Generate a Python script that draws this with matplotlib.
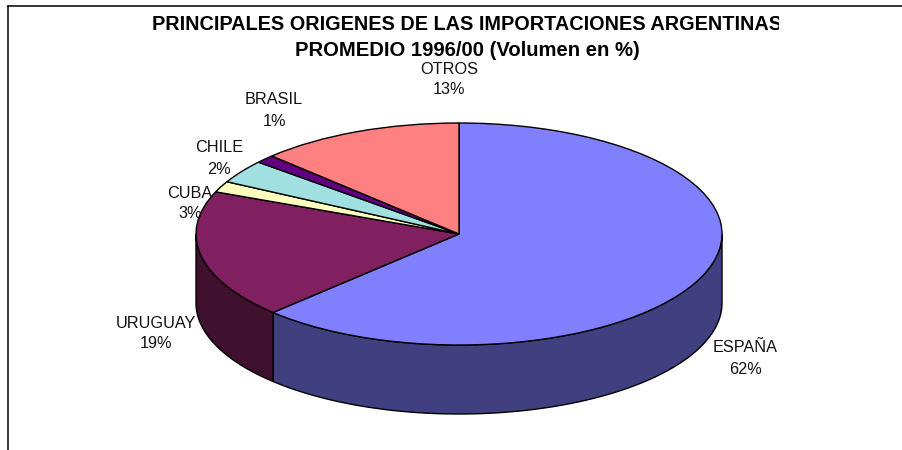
import numpy as np
import matplotlib
matplotlib.use('Agg')
import matplotlib.pyplot as plt
from matplotlib.patches import Polygon
from matplotlib.transforms import Bbox

plt.rcParams['font.family'] = ['Liberation Sans', 'DejaVu Sans']

# slice sizes, the printed labels are kept apart
names = ['ESPAÑA', 'URUGUAY', 'CUBA', 'CHILE', 'BRASIL', 'OTROS']
shares = [62.5, 18.7, 1.6, 3.4, 1.2, 12.6]
printed = ['62%', '19%', '3%', '2%', '1%', '13%']
colors = ['#8080FF', '#802060', '#FFFFC0', '#A0E0E0', '#600080', '#FF8080']
side_colors = ['#404080', '#40102F', '#808060', '#507070', '#300040', '#804040']
label_x = [745, 156, 190, 219, 274, 449]
label_y = [348, 323, 193, 148, 100, 69]
title_lines = ['PRINCIPALES ORIGENES DE LAS IMPORTACIONES ARGENTINAS',
               'PROMEDIO 1996/00 (Volumen en %)']

W, H = 902, 450
depth = 69 / 111  # side height in pie radius units

fig = plt.figure(figsize=(W / 100, H / 100), dpi=100)
fig.patch.set_facecolor('white')
ax = fig.add_axes([196 / W, (H - 345) / H, 526 / W, 222 / H])
ax.pie(shares, colors=colors, startangle=90, counterclock=False, radius=1,
       wedgeprops={'edgecolor': 'black', 'linewidth': 1.0})
ax.set_aspect('auto')
ax.set_xlim(-1, 1)
ax.set_ylim(-1, 1)

# side wall, only the front half (math angles -180..0) shows
start = 90.0
for share, col in zip(shares, side_colors):
    end = start - share * 3.6
    a1 = max(end, -180)
    a2 = min(start, 0)
    if a1 < a2:
        t = np.radians(np.linspace(a2, a1, 80))
        x = np.cos(t)
        y = np.sin(t)
        pts = np.r_[np.c_[x, y], np.c_[x, y - depth][::-1]]
        ax.add_patch(Polygon(pts, closed=True, facecolor=col, edgecolor='black',
                             linewidth=1.0, clip_on=False, zorder=0))
    start = end

# frame: top and left only
fig.add_artist(plt.Line2D([8 / W, 8 / W], [0, 1 - 5.5 / H], color='black', lw=1.1))
fig.add_artist(plt.Line2D([8 / W, 1], [1 - 5.5 / H, 1 - 5.5 / H], color='black', lw=1.1))

# title is cut off on the right like in the source
clip = Bbox([[0, 0], [779, H]])
t1 = fig.text(152 / W, 1 - 25 / H, title_lines[0], fontsize=14.35, fontweight='bold',
              ha='left', va='center')
t1.set_clip_box(clip)
t1.set_clip_on(True)
fig.text(467 / W, 1 - 50 / H, title_lines[1], fontsize=14.6, fontweight='bold',
         ha='center', va='center')

for name, val, lx, ly in zip(names, printed, label_x, label_y):
    fig.text(lx / W, 1 - ly / H, name, fontsize=11.7, ha='center', va='center', color='#111111')
    fig.text(lx / W, 1 - (ly + 21) / H, val, fontsize=11.7, ha='center', va='center', color='#111111')

fig.savefig('out.png', dpi=100)
